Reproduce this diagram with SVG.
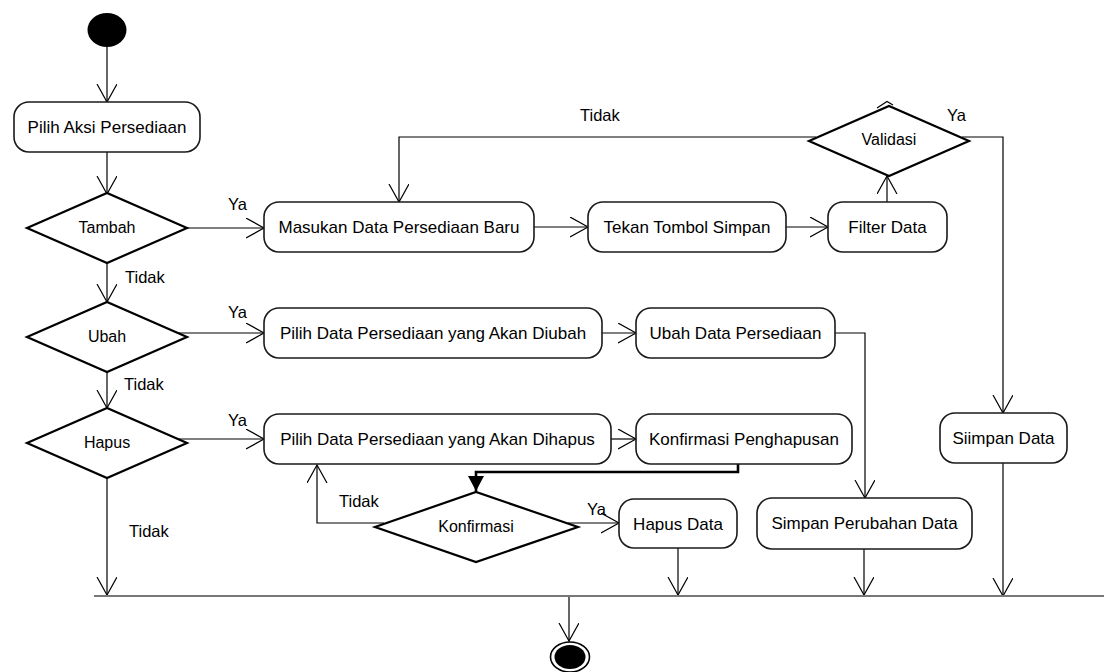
<svg xmlns="http://www.w3.org/2000/svg" width="1105" height="672" viewBox="0 0 1105 672">
  <style>
    .act { fill: #ffffff; stroke: #1a1a1a; stroke-width: 1.6; }
    .dec { fill: #ffffff; stroke: #000000; stroke-width: 2.2; }
    .lbl { font-family: "Liberation Sans", Arial, sans-serif; font-size: 17px; fill: #000; text-anchor: middle; }
    .dlbl { font-family: "Liberation Sans", Arial, sans-serif; font-size: 16px; fill: #000; text-anchor: middle; }
    .guard { font-family: "Liberation Sans", Arial, sans-serif; font-size: 16.5px; fill: #000; }
    .flow { fill: none; stroke: #000; stroke-width: 1.2; marker-end: url(#open); }
    .flow.gray { stroke: #555; stroke-width: 1.6; }
    .plain { fill: none; stroke: #000; stroke-width: 1.2; }
  </style>
  <defs>
    <marker id="open" markerUnits="userSpaceOnUse" markerWidth="22" markerHeight="22" refX="18" refY="10" orient="auto">
      <path d="M0,0 L18,10 L0,20" fill="none" stroke="#000" stroke-width="1.2"/>
    </marker>
    <marker id="solid" markerUnits="userSpaceOnUse" markerWidth="18" markerHeight="18" refX="15" refY="8" orient="auto">
      <path d="M0,0 L15,8 L0,16 z" fill="#000"/>
    </marker>
  </defs>

  <!-- connectors -->
  <g id="connectors">
    <line class="flow" x1="107" y1="47" x2="107" y2="102"/>
    <line class="flow" x1="107" y1="152" x2="107" y2="194"/>
    <line class="flow gray" x1="187" y1="228" x2="264" y2="228"/>
    <line class="flow" x1="107" y1="263" x2="107" y2="302"/>
    <line class="flow" x1="178" y1="333" x2="264" y2="333"/>
    <line class="flow" x1="107" y1="372" x2="107" y2="408"/>
    <line class="flow" x1="178" y1="439" x2="264" y2="439"/>
    <line class="flow" x1="107" y1="478" x2="107" y2="595"/>
    <line class="flow gray" x1="534" y1="227" x2="588" y2="227"/>
    <line class="flow gray" x1="786" y1="227" x2="828" y2="227"/>
    <line class="flow" x1="887" y1="202" x2="887" y2="176"/>
    <polyline class="flow" points="962,137 1003,137 1003,413"/>
    <polyline class="flow" points="816,137 399,137 399,202"/>
    <line class="flow" x1="602" y1="333" x2="636" y2="333"/>
    <polyline class="flow" points="835,333 865,333 865,498"/>
    <line class="flow" x1="611" y1="439" x2="636" y2="439"/>
    <polyline fill="none" stroke="#000" stroke-width="2.6" marker-end="url(#solid)" points="738,464 738,472 476,472 476,491"/>
    <polyline class="flow" points="384,523 317,523 317,465"/>
    <line class="flow" x1="568" y1="523" x2="619" y2="523"/>
    <line class="flow" x1="678" y1="548" x2="678" y2="595"/>
    <line class="flow" x1="864" y1="549" x2="864" y2="595"/>
    <line class="flow" x1="1003" y1="463" x2="1003" y2="596"/>
    <line class="flow" x1="569" y1="597" x2="569" y2="641"/>
    <!-- join bar -->
    <line x1="94" y1="596" x2="1104" y2="596" stroke="#777" stroke-width="2.2"/>
  </g>

  <!-- guard labels -->
  <g id="guards">
    <text class="guard" x="228" y="210">Ya</text>
    <text class="guard" x="125" y="283">Tidak</text>
    <text class="guard" x="228" y="318">Ya</text>
    <text class="guard" x="124" y="390">Tidak</text>
    <text class="guard" x="228" y="426">Ya</text>
    <text class="guard" x="129" y="537">Tidak</text>
    <text class="guard" x="580" y="121">Tidak</text>
    <text class="guard" x="947" y="121">Ya</text>
    <text class="guard" x="339" y="507">Tidak</text>
    <text class="guard" x="587" y="515">Ya</text>
  </g>

  <!-- start / end -->
  <g id="start">
    <ellipse cx="107" cy="30" rx="19.5" ry="17" fill="#000"/>
  </g>
  <g id="end">
    <ellipse cx="570" cy="657" rx="19.5" ry="15" fill="#fff" stroke="#000" stroke-width="1.6"/>
    <ellipse cx="570" cy="657" rx="15.5" ry="12" fill="#000"/>
  </g>

  <!-- activities -->
  <g id="pilih-aksi">
    <rect class="act" x="14" y="102" width="186" height="50" rx="15"/>
    <text class="lbl" x="107" y="133">Pilih Aksi Persediaan</text>
  </g>
  <g id="masukan-data">
    <rect class="act" x="264" y="202" width="270" height="50" rx="15"/>
    <text class="lbl" x="399" y="233">Masukan Data Persediaan Baru</text>
  </g>
  <g id="tekan-simpan">
    <rect class="act" x="588" y="202" width="198" height="50" rx="15"/>
    <text class="lbl" x="687" y="233">Tekan Tombol Simpan</text>
  </g>
  <g id="filter-data">
    <rect class="act" x="828" y="202" width="119" height="50" rx="15"/>
    <text class="lbl" x="887.5" y="233">Filter Data</text>
  </g>
  <g id="pilih-diubah">
    <rect class="act" x="264" y="308" width="338" height="50" rx="15"/>
    <text class="lbl" x="433" y="339">Pilih Data Persediaan yang Akan Diubah</text>
  </g>
  <g id="ubah-data">
    <rect class="act" x="636" y="308" width="199" height="50" rx="15"/>
    <text class="lbl" x="735.5" y="339">Ubah Data Persediaan</text>
  </g>
  <g id="pilih-dihapus">
    <rect class="act" x="264" y="414" width="347" height="50" rx="15"/>
    <text class="lbl" x="437.5" y="445">Pilih Data Persediaan yang Akan Dihapus</text>
  </g>
  <g id="konfirmasi-penghapusan">
    <rect class="act" x="636" y="414" width="216" height="50" rx="15"/>
    <text class="lbl" x="744" y="445">Konfirmasi Penghapusan</text>
  </g>
  <g id="siimpan-data">
    <rect class="act" x="940" y="413" width="127" height="50" rx="15"/>
    <text class="lbl" x="1003.5" y="444">Siimpan Data</text>
  </g>
  <g id="hapus-data">
    <rect class="act" x="619" y="499" width="118" height="49" rx="15"/>
    <text class="lbl" x="678" y="530">Hapus Data</text>
  </g>
  <g id="simpan-perubahan">
    <rect class="act" x="757" y="498" width="215" height="51" rx="15"/>
    <text class="lbl" x="864.5" y="529">Simpan Perubahan Data</text>
  </g>

  <!-- decisions -->
  <g id="tambah">
    <polygon class="dec" points="27,228 107,193 187,228 107,263"/>
    <text class="dlbl" x="107" y="233">Tambah</text>
  </g>
  <g id="ubah">
    <polygon class="dec" points="27,337 107,302 187,337 107,372"/>
    <text class="dlbl" x="107" y="342">Ubah</text>
  </g>
  <g id="hapus">
    <polygon class="dec" points="27,443 107,408 187,443 107,478"/>
    <text class="dlbl" x="107" y="448">Hapus</text>
  </g>
  <g id="validasi">
    <polygon class="dec" points="809,141 889,106 969,141 889,176"/>
    <polyline class="plain" points="877,108 887,101.5 893,105"/>
    <text class="dlbl" x="889" y="145">Validasi</text>
  </g>
  <g id="konfirmasi">
    <polygon class="dec" points="375,527 476,492 578,527 476,562"/>
    <text class="dlbl" x="476" y="532">Konfirmasi</text>
  </g>
</svg>
